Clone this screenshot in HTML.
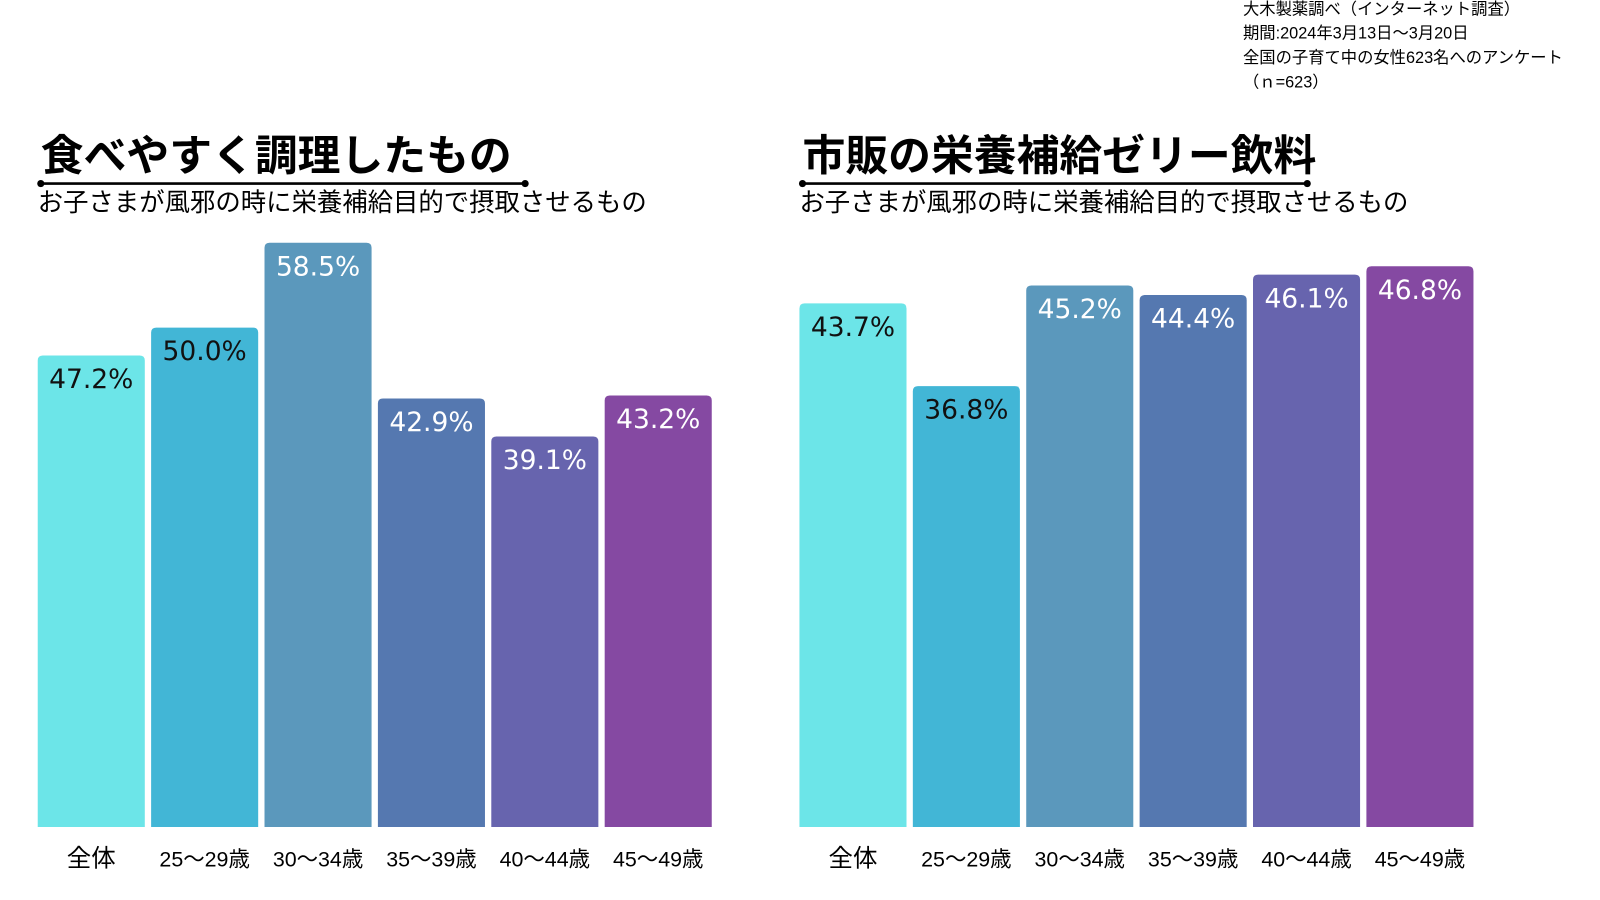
<!DOCTYPE html>
<html><head><meta charset="utf-8"><style>
body{margin:0;width:1600px;height:900px;background:#fff;overflow:hidden;font-family:"Liberation Sans","Noto Sans CJK JP",sans-serif;}
svg{position:absolute;left:0;top:0}
</style></head><body>
<svg width="1600" height="900" xmlns="http://www.w3.org/2000/svg">
<g id="chart" transform="scale(1.0197)">
<g font-size="16" fill="#000" font-family="Liberation Sans, Noto Sans CJK JP, sans-serif">
<text x="1219" y="14">大木製薬調べ（インターネット調査）</text>
<text x="1219" y="38">期間:2024年3月13日～3月20日</text>
<text x="1219" y="62">全国の子育て中の女性623名へのアンケート</text>
<text x="1219" y="86">（ｎ=623）</text>
</g>
</g>
</svg>
<script>
const categories=["全体","25～29歳","30～34歳","35～39歳","40～44歳","45～49歳"];
const valuesLeft=[47.2,50.0,58.5,42.9,39.1,43.2];
const valuesRight=[43.7,36.8,45.2,44.4,46.1,46.8];
const titleLeft="食べやすく調理したもの";
const titleRight="市販の栄養補給ゼリー飲料";
const subtitle="お子さまが風邪の時に栄養補給目的で摂取させるもの";
const colors=["#6ce5e8","#42b6d6","#5b98bc","#5578b0","#6764ae","#8549a2"];
const svg=document.getElementById('chart');
const NS="http://www.w3.org/2000/svg";
function mk(t,a){const e=document.createElementNS(NS,t);for(const k in a)e.setAttribute(k,a[k]);svg.appendChild(e);return e;}
function panel(x0,vals,maxv,title,uw,side){
 const base=811,plotH=573,step=111.2,bw=105;
 const y=v=>base-v/maxv*plotH;
 const t=mk('text',{x:x0+3,y:167,'font-size':42,'font-weight':'bold'});t.textContent=title;
 
 
 const l=mk('line',{x1:x0+3,y1:180,x2:x0+3+uw,y2:180,stroke:'#000','stroke-width':2.5});
 
 
 [x0+3,x0+3+uw].forEach(cx=>{const c=mk('circle',{cx:cx,cy:180,r:3.5,fill:'#000'});});
 const s=mk('text',{x:x0,y:207,'font-size':24.9});s.textContent=subtitle;
 
 
 vals.forEach((v,i)=>{
  const bx=x0+i*step,top=y(v);
  const r=mk('path',{d:`M${bx},${base}V${top+5}Q${bx},${top} ${bx+5},${top}H${bx+bw-5}Q${bx+bw},${top} ${bx+bw},${top+5}V${base}Z`,fill:colors[i]});
  
  
  const tx=mk('text',{x:bx+bw/2,y:top+32,'text-anchor':'middle','font-size':26,fill:i<2?'#111':'#fff','font-family':'DejaVu Sans, sans-serif'});
  tx.textContent=v.toFixed(1)+'%';
  
  
  const cl=mk('text',{x:bx+bw/2,y:850,'text-anchor':'middle','font-size':i==0?24:21});
  cl.textContent=categories[i];
  
  
 });
}
panel(37,valuesLeft,58.5,titleLeft,475,'left');
panel(784,valuesRight,48.77,titleRight,495,'right');
</script>
</body></html>
